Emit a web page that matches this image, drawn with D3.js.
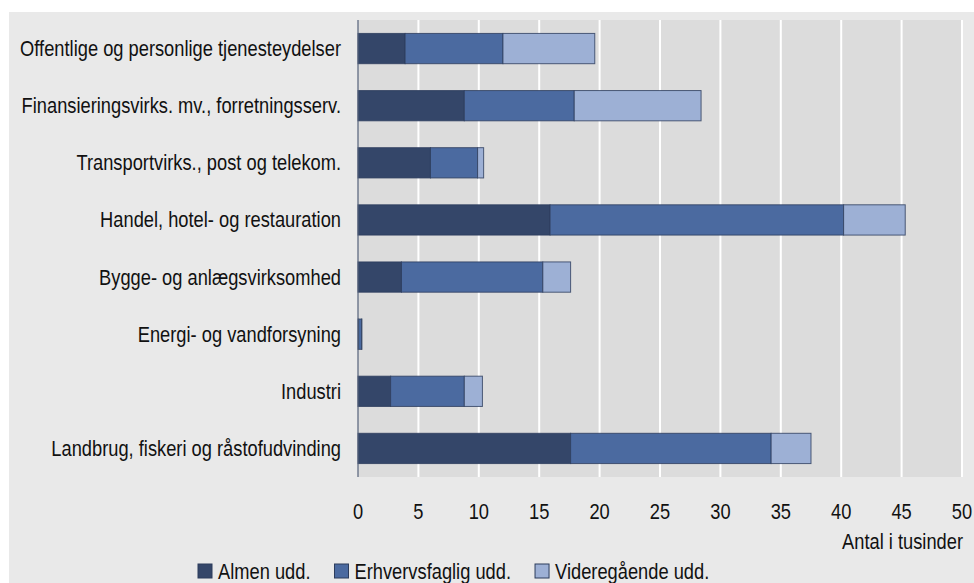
<!DOCTYPE html>
<html>
<head>
<meta charset="utf-8">
<script src="https://cdn.jsdelivr.net/npm/d3@7"></script>
<style>
  html, body { margin: 0; padding: 0; background: #fff; }
  svg { display: block; font-family: "Liberation Sans", Arial, sans-serif; }
</style>
</head>
<body>
<svg id="chart" width="974" height="583"></svg>
<script>
// categories, top to bottom as drawn
const categories = [
  "Offentlige og personlige tjenesteydelser",
  "Finansieringsvirks. mv., forretningsserv.",
  "Transportvirks., post og telekom.",
  "Handel, hotel- og restauration",
  "Bygge- og anlægsvirksomhed",
  "Energi- og vandforsyning",
  "Industri",
  "Landbrug, fiskeri og råstofudvinding"
];

const seriesNames = ["Almen udd.", "Erhvervsfaglig udd.", "Videregående udd."];

// values in thousands
const almen      = [3.9, 8.8, 6.0, 15.9, 3.6, 0.05, 2.7, 17.6];
const erhverv    = [8.1, 9.1, 3.9, 24.3, 11.7, 0.25, 6.1, 16.6];
const videre     = [7.6, 10.5, 0.5, 5.1, 2.3, 0.02, 1.5, 3.3];

const xTicks = [0, 5, 10, 15, 20, 25, 30, 35, 40, 45, 50];

const colors = ["#344669", "#4b6aa0", "#9db0d5"];

const svg = d3.select("#chart");
const fontSize = 21.5;

// the reference uses a narrow face; squeeze text horizontally to its widths
const probe = svg.append("text").attr("font-size", fontSize).text(categories[0]);
const sx = Math.min(1, 321 / probe.node().getComputedTextLength());
probe.remove();

function label(parent, txt, ax, ay, anchor) {
  return parent.append("text")
    .attr("transform", `translate(${ax},${ay}) scale(${sx},1)`)
    .attr("dy", "0.35em")
    .attr("text-anchor", anchor)
    .attr("font-size", fontSize)
    .attr("fill", "#111")
    .text(txt);
}

// outer panel
svg.append("rect")
  .attr("x", 9).attr("y", 12)
  .attr("width", 974 - 9).attr("height", 583 - 12)
  .attr("fill", "#e9e9e9");

const plot = { left: 358, right: 962, top: 20, bottom: 477 };

const x = d3.scaleLinear().domain([0, 50]).range([plot.left, plot.right]);
const y = d3.scaleBand().domain(categories).range([plot.top, plot.bottom])
  .paddingInner(0.47).paddingOuter(0.235);

svg.append("rect")
  .attr("x", plot.left).attr("y", plot.top)
  .attr("width", plot.right - plot.left).attr("height", plot.bottom - plot.top)
  .attr("fill", "#dcdcdc");

// grid lines
svg.append("g")
  .selectAll("line")
  .data(xTicks.filter(d => d > 0))
  .join("line")
  .attr("x1", d => x(d)).attr("x2", d => x(d))
  .attr("y1", plot.top).attr("y2", plot.bottom)
  .attr("stroke", "#ffffff")
  .attr("stroke-width", 2);

// stacked data
const rows = categories.map((c, i) => ({
  cat: c,
  "Almen udd.": almen[i],
  "Erhvervsfaglig udd.": erhverv[i],
  "Videregående udd.": videre[i]
}));
const stacked = d3.stack().keys(seriesNames)(rows);

svg.append("g")
  .selectAll("g")
  .data(stacked)
  .join("g")
  .attr("fill", (d, i) => colors[i])
  .selectAll("rect")
  .data(d => d)
  .join("rect")
  .attr("x", d => x(d[0]))
  .attr("y", d => y(d.data.cat))
  .attr("width", d => x(d[1]) - x(d[0]))
  .attr("height", y.bandwidth())
  .attr("stroke", "#2c3c5c")
  .attr("stroke-opacity", 0.8)
  .attr("stroke-width", 1);

// axis line at zero
svg.append("line")
  .attr("x1", plot.left).attr("x2", plot.left)
  .attr("y1", plot.top).attr("y2", plot.bottom)
  .attr("stroke", "#55627a")
  .attr("stroke-width", 1.2);

// category labels
const catG = svg.append("g");
categories.forEach(c => label(catG, c, 341, y(c) + y.bandwidth() / 2, "end"));

// x tick labels
const tickG = svg.append("g");
xTicks.forEach(t => label(tickG, t, x(t), 511, "middle"));

label(svg, "Antal i tusinder", 963, 541, "end");

// legend
const legend = svg.append("g");
let lx = 198;
seriesNames.forEach((name, i) => {
  legend.append("rect")
    .attr("x", lx).attr("y", 564)
    .attr("width", 14).attr("height", 14)
    .attr("fill", colors[i])
    .attr("stroke", "#2c3c5c")
    .attr("stroke-width", 1);
  const t = label(legend, name, lx + 20, 571, "start");
  lx += 20 + t.node().getComputedTextLength() * sx + 24;
});
</script>
</body>
</html>
